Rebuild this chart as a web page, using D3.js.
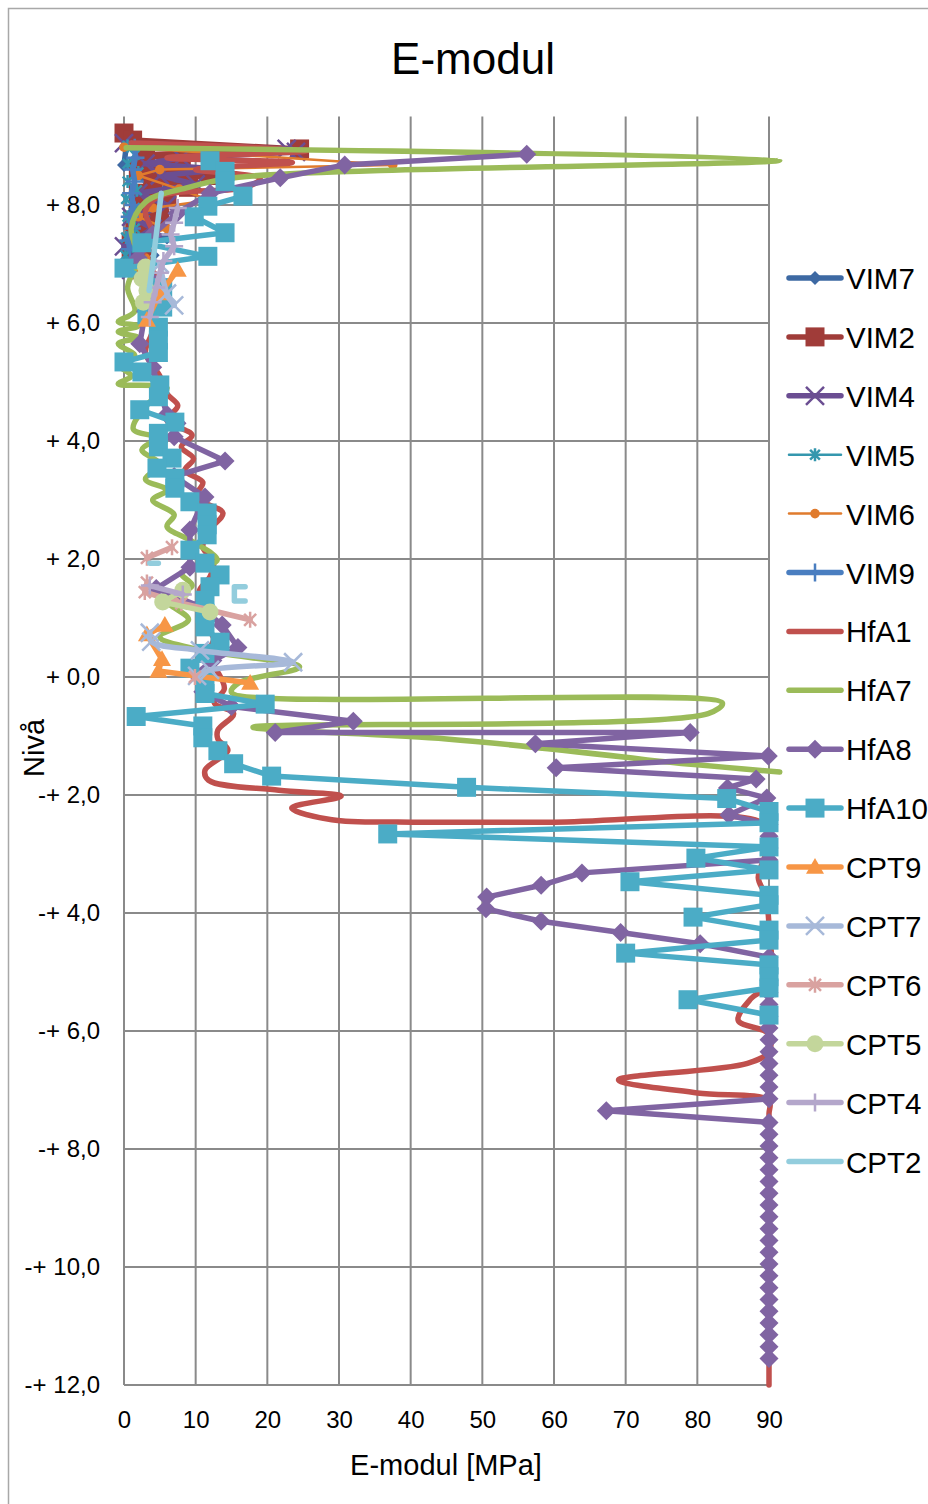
<!DOCTYPE html>
<html><head><meta charset="utf-8">
<script src="https://cdn.jsdelivr.net/npm/d3@7"></script>
<style>
body{margin:0;background:#fff}
svg{display:block}
text{font-family:"Liberation Sans",Arial,sans-serif;fill:#000}
</style>
</head><body><svg id="c" width="928" height="1504"></svg>
<script>
// ---------- DATA (E-modul [MPa], Nivå) ----------
const xTickValues = [0,10,20,30,40,50,60,70,80,90];
const yTickValues = [8,6,4,2,0,-2,-4,-6,-8,-10,-12];
const yTickLabels = ["+ 8,0","+ 6,0","+ 4,0","+ 2,0","+ 0,0","-+ 2,0","-+ 4,0","-+ 6,0","-+ 8,0","-+ 10,0","-+ 12,0"];

const vim7 = [[0.3,8.98],[0,8.68],[6,8.62],[10,8.55],[3,8.45],[9,8.35],[2,8.2],[5,8.05],[1.5,7.9],[4,7.75],[1,7.6],[6,7.45],[2,7.3],[4,7.15],[1,7.0]];
const vim2 = [[0,9.22],[1.2,9.1],[24.5,8.95],[3,8.85],[8,8.75],[2,8.62],[12,8.5],[4,8.4],[9,8.3],[2,8.2],[6,8.1],[2,7.95],[5,7.8],[1.5,7.65],[3,7.5],[1,7.35],[2.5,7.2],[1,7.05],[2,6.9]];
const vim4 = [[0,9.05],[22.7,8.95],[24,8.9],[8,8.8],[3,8.7],[14,8.6],[5,8.5],[10,8.35],[2,8.2],[6,8.0],[1,7.8],[4,7.6],[0,7.3],[2,7.1],[1,6.9]];
const vim5 = [[0.5,9.0],[1.5,8.85],[0.5,8.7],[2,8.55],[0.5,8.4],[1.8,8.25],[0.3,8.1],[1.5,7.95],[0.5,7.8],[1.5,7.6],[0.3,7.45],[1.2,7.3],[0.2,7.15],[1,7.0]];
const vim6 = [[0,8.98],[37.5,8.68],[5,8.6],[2,8.5],[7.7,8.27],[12,8.08],[4,7.95],[2,7.8],[6,7.6],[1,7.4],[3,7.1],[2,6.85]];
const vim9 = [[1.5,8.97],[1.6,8.8],[1.2,8.6],[1.5,8.4],[1.0,8.2],[1.3,8.0],[0.8,7.8],[1.1,7.6],[0.6,7.4],[0.8,7.25]];
const hfa1 = [[1,9.05],[25.5,8.92],[6,8.8],[23.5,8.72],[10,8.6],[19,8.45],[17,8.3],[5,8.15],[3,7.9],[4,7.5],[2.5,7.1],[5,6.7],[3,6.3],[4,5.9],[3,5.5],[5,5.1],[6,4.8],[7.5,4.6],[6,4.35],[9.5,4.1],[8,3.9],[9.7,3.7],[8.5,3.5],[11,3.3],[10,3.05],[13.8,2.78],[12,2.5],[11,2.2],[12.5,1.95],[12,1.7],[10.5,1.45],[12,1.2],[11,0.95],[12.5,0.65],[11.5,0.35],[13,0.1],[14,-0.2],[12.6,-0.44],[15.3,-0.62],[13.1,-0.9],[13.1,-1.05],[14.5,-1.24],[11.3,-1.58],[11.8,-1.75],[21.6,-1.92],[30.3,-2.02],[23.4,-2.22],[29,-2.42],[40.2,-2.46],[60,-2.46],[89,-2.47],[90,-2.8],[88.5,-3.4],[89.5,-3.7],[90,-4.2],[90,-5.2],[87.5,-5.45],[85.7,-5.82],[90,-6.05],[90,-6.35],[87,-6.55],[69,-6.83],[80,-7.05],[90,-7.18],[90,-7.4],[90,-7.7],[90,-8.2],[90,-9.5],[90,-11],[90,-12.0]];
const hfa7 = [[0.3,8.97],[91.5,8.76],[16,8.47],[9,8.3],[3,8.05],[1,7.6],[2,7.1],[0.5,6.6],[1.5,6.2],[-0.8,6.02],[2,5.95],[-0.8,5.85],[2,5.75],[-0.8,5.65],[1.5,5.45],[-0.8,5.3],[1,5.1],[-0.8,4.97],[6,4.9],[3.5,4.65],[1.3,4.2],[4.5,4.05],[2.5,3.85],[5,3.6],[3,3.35],[6,3.17],[4,3.0],[7,2.75],[6,2.55],[9.5,2.3],[13,1.98],[8,1.76],[9.5,1.55],[6,1.3],[9,0.97],[5,0.68],[11,0.45],[24.5,0.17],[16,-0.1],[15,-0.26],[83.5,-0.44],[81.5,-0.62],[18,-0.85],[45,-1.05],[70,-1.36],[74,-1.42],[91.5,-1.61]];
const hfa8 = [[56.2,8.86],[30.8,8.68],[21.8,8.46],[12,8.2],[7.4,7.86],[4,7.5],[2,7.1],[4,6.7],[3,6.2],[2.2,5.65],[4,5.25],[5,4.85],[6,4.45],[7.4,4.3],[7,4.07],[14.1,3.66],[7,3.4],[11.3,3.05],[9.2,2.49],[9.2,1.86],[4.5,1.5],[10.5,1.2],[13.7,0.88],[15.9,0.5],[12.4,0.28],[10,0.05],[11,-0.25],[15,-0.5],[32,-0.75],[21.1,-0.94],[79,-0.94],[57.4,-1.13],[89.9,-1.34],[60.3,-1.54],[88.2,-1.73],[84.2,-1.88],[89.7,-2.05],[84.4,-2.34],[90,-2.5],[90,-2.7],[90,-2.9],[90,-3.1],[63.9,-3.32],[58.2,-3.53],[50.6,-3.73],[50.5,-3.93],[58.2,-4.14],[69.3,-4.33],[80.4,-4.52],[90,-4.75],[90,-4.95],[90,-5.15],[90,-5.35],[90,-5.55],[90,-5.75],[90,-5.95],[90,-6.15],[90,-6.35],[90,-6.55],[90,-6.75],[90,-6.95],[90,-7.15],[67.3,-7.35],[90,-7.55],[90,-7.75],[90,-7.95],[90,-8.15],[90,-8.35],[90,-8.55],[90,-8.75],[90,-8.95],[90,-9.15],[90,-9.35],[90,-9.55],[90,-9.75],[90,-9.95],[90,-10.15],[90,-10.35],[90,-10.55],[90,-10.75],[90,-10.95],[90,-11.15],[90,-11.35],[90,-11.55]];
const hfa10 = [[12.0,8.75],[14.1,8.57],[14.1,8.4],[16.6,8.15],[11.7,7.98],[9.8,7.8],[14.1,7.53],[2.5,7.36],[11.7,7.13],[0.0,6.93],[5.4,6.6],[5.4,6.27],[3.2,6.14],[4.8,5.93],[4.8,5.71],[4.8,5.5],[0.0,5.34],[2.5,5.17],[5.0,4.95],[4.8,4.75],[2.2,4.53],[7.1,4.32],[4.8,4.13],[4.8,3.9],[6.7,3.71],[4.6,3.54],[7.1,3.37],[7.1,3.2],[9.2,2.97],[11.6,2.78],[11.6,2.58],[11.6,2.41],[9.2,2.15],[11.3,1.93],[13.4,1.73],[12.0,1.53],[11.3,1.3],[11.3,1.08],[11.3,0.85],[13.4,0.59],[11.3,0.4],[9.2,0.15],[11.3,-0.08],[11.3,-0.28],[19.7,-0.46],[1.7,-0.67],[11.0,-0.83],[11.0,-1.03],[13.1,-1.25],[15.3,-1.47],[20.6,-1.68],[47.8,-1.87],[84.1,-2.06],[90,-2.28],[90,-2.47],[36.8,-2.66],[90,-2.88],[79.8,-3.07],[90,-3.27],[70.6,-3.47],[90,-3.7],[90,-3.86],[79.4,-4.07],[90,-4.29],[90,-4.46],[70,-4.68],[90,-4.88],[90,-5.08],[90,-5.27],[78.7,-5.47],[90,-5.73]];
const cpt9 = [[7.5,6.9],[5,6.5],[3.2,6.05],null,[5.7,0.88],[3.2,0.72],[5.3,0.3],[4.8,0.1],[17.6,-0.1]];
const cpt7 = [[5,7.0],[6,6.5],[7,6.3],null,[3.6,0.75],[3.8,0.6],[10.6,0.45],[23.6,0.25],[12,0.12],[10.2,0.02]];
const cpt6 = [[3.2,2.02],[6.7,2.2],null,[3.2,1.6],[2.9,1.44],[8,1.25],[17.6,0.97],null,[9.9,0.0]];
const cpt5 = [[3,6.95],[2.5,6.75],[3.2,6.55],[2.7,6.35],null,[8.2,1.47],[5.4,1.27],[12,1.1]];
const cpt4 = [[7.5,7.95],[7,7.7],[6.5,7.5],[7,7.3],[5.5,7.05],[5,6.85],[4.5,6.6],[4,6.35],[3.6,6.1],null,[3.6,1.55],[8.2,1.4]];
const cpt2 = [[5.2,8.2],[4.8,7.8],[4.3,7.3],[3.9,6.9],[3.5,6.55],null,[3.6,1.93],[4.8,1.93],null,[16.9,1.53],[15.4,1.53],[15.4,1.29],[16.9,1.29]];

const seriesNames  = ["VIM7","VIM2","VIM4","VIM5","VIM6","VIM9","HfA1","HfA7","HfA8","HfA10","CPT9","CPT7","CPT6","CPT5","CPT4","CPT2"];
const seriesData   = [vim7,vim2,vim4,vim5,vim6,vim9,hfa1,hfa7,hfa8,hfa10,cpt9,cpt7,cpt6,cpt5,cpt4,cpt2];

// ---------- STYLE ----------
const seriesColors = ["#3d69a3","#a03c39","#6b4e92","#3497ae","#e07b2d","#4a7ec0","#c0504d","#9bbb59","#8064a2","#4bacc6","#f79646","#a7b9d9","#d9a2a0","#c3d69b","#b4a7cb","#93cddd"];
const seriesMarker = ["diamond","square","x","star","circle","plus","none","none","diamond","square","triangle","x","star","circle","plus","none"];
const seriesMSize  = [7,9.5,9,6.5,4.8,9,0,0,9.5,9.5,9,9,8,8.5,9,0];
const seriesWidth  = [5.5,5.5,5.5,2.5,2.5,5.5,5.5,5.5,5.5,5.5,5.5,5.5,5.5,5.5,5.5,5.5];
const seriesSmooth = [false,false,false,false,false,false,true,true,false,false,false,true,false,false,false,false];

const svg = d3.select("#c");
const W = 928, H = 1504;
const x = d3.scaleLinear().domain([0,90]).range([124,769]);
const y = d3.scaleLinear().domain([8,-12]).range([205,1385]);
const yTop = y(9.5);

// outer chart border
svg.append("rect").attr("x",8.5).attr("y",8.5).attr("width",W).attr("height",H)
  .attr("fill","none").attr("stroke","#a8a8a8").attr("stroke-width",1.5);

// title
svg.append("text").attr("x",473).attr("y",74).attr("text-anchor","middle")
  .style("font-size","44px").text("E-modul");

// gridlines
const grid = svg.append("g");
grid.selectAll("line.v").data(xTickValues).join("line")
  .attr("x1",d=>x(d)).attr("x2",d=>x(d)).attr("y1",yTop).attr("y2",y(-12))
  .attr("stroke","#8a8a8a").attr("stroke-width",2);
grid.selectAll("line.h").data(yTickValues).join("line")
  .attr("x1",x(0)).attr("x2",x(90)).attr("y1",d=>y(d)).attr("y2",d=>y(d))
  .attr("stroke","#8a8a8a").attr("stroke-width",2);

// axes
const yAxis = d3.axisLeft(y).tickValues(yTickValues).tickFormat((d,i)=>yTickLabels[i]).tickSize(0).tickPadding(24);
const gy = svg.append("g").attr("transform",`translate(${x(0)},0)`).call(yAxis);
gy.select(".domain").remove();
gy.selectAll("text").style("font-size","24px").style("font-family","'Liberation Sans',Arial,sans-serif").attr("fill","#000");

const xAxis = d3.axisBottom(x).tickValues(xTickValues).tickFormat(d3.format("d")).tickSize(0).tickPadding(26);
const gx = svg.append("g").attr("transform",`translate(0,${y(-12)})`).call(xAxis);
gx.select(".domain").remove();
gx.selectAll("text").style("font-size","24px").style("font-family","'Liberation Sans',Arial,sans-serif").attr("fill","#000");

svg.append("text").attr("x",446).attr("y",1475).attr("text-anchor","middle")
  .style("font-size","29px").text("E-modul [MPa]");
svg.append("text").attr("transform","translate(44,748) rotate(-90)").attr("text-anchor","middle")
  .style("font-size","29px").text("Nivå");

// markers
function markerPath(type,s){
  switch(type){
    case "diamond": return `M0,${-s}L${s},0L0,${s}L${-s},0Z`;
    case "square": return `M${-s},${-s}h${2*s}v${2*s}h${-2*s}Z`;
    case "triangle": return `M0,${-s}L${s},${s*0.75}L${-s},${s*0.75}Z`;
    case "circle": return d3.symbol(d3.symbolCircle, Math.PI*s*s)();
    case "x": return `M${-s},${-s}L${s},${s}M${-s},${s}L${s},${-s}`;
    case "star": return `M${-s*0.75},${-s*0.75}L${s*0.75},${s*0.75}M${-s*0.75},${s*0.75}L${s*0.75},${-s*0.75}M0,${-s}L0,${s}`;
    case "plus": return `M0,${-s}L0,${s}M${-s},0L${s},0`;
  }
  return "";
}
const openMarker = t => t==="x"||t==="star"||t==="plus";

const plot = svg.append("g");
seriesData.forEach((data,i)=>{
  const g = plot.append("g");
  const line = d3.line().defined(d=>d!=null).x(d=>x(d[0])).y(d=>y(d[1]))
    .curve(seriesSmooth[i] ? d3.curveCatmullRom.alpha(0.5) : d3.curveLinear);
  g.append("path").attr("d",line(data)).attr("fill","none")
    .attr("stroke",seriesColors[i]).attr("stroke-width",seriesWidth[i])
    .attr("stroke-linejoin","round").attr("stroke-linecap","round");
  const mt = seriesMarker[i];
  if(mt!=="none"){
    g.selectAll("path.m").data(data.filter(d=>d!=null)).join("path").attr("class","m")
      .attr("transform",d=>`translate(${x(d[0])},${y(d[1])})`)
      .attr("d",markerPath(mt,seriesMSize[i]))
      .attr("fill",openMarker(mt)?"none":seriesColors[i])
      .attr("stroke",seriesColors[i]).attr("stroke-width",openMarker(mt)?2.5:0);
  }
});

// legend
const legendY0 = 278, legendStep = 58.9;
const lg = svg.append("g");
seriesNames.forEach((name,i)=>{
  const cy = legendY0 + i*legendStep;
  lg.append("line").attr("x1",789).attr("x2",841).attr("y1",cy).attr("y2",cy)
    .attr("stroke",seriesColors[i]).attr("stroke-width",seriesWidth[i]).attr("stroke-linecap","round");
  const mt = seriesMarker[i];
  if(mt!=="none"){
    lg.append("path").attr("transform",`translate(815,${cy})`).attr("d",markerPath(mt,seriesMSize[i]))
      .attr("fill",openMarker(mt)?"none":seriesColors[i])
      .attr("stroke",seriesColors[i]).attr("stroke-width",openMarker(mt)?2.5:0);
  }
  lg.append("text").attr("x",846).attr("y",cy+11).style("font-size","29.5px").text(name);
});
</script></body></html>
